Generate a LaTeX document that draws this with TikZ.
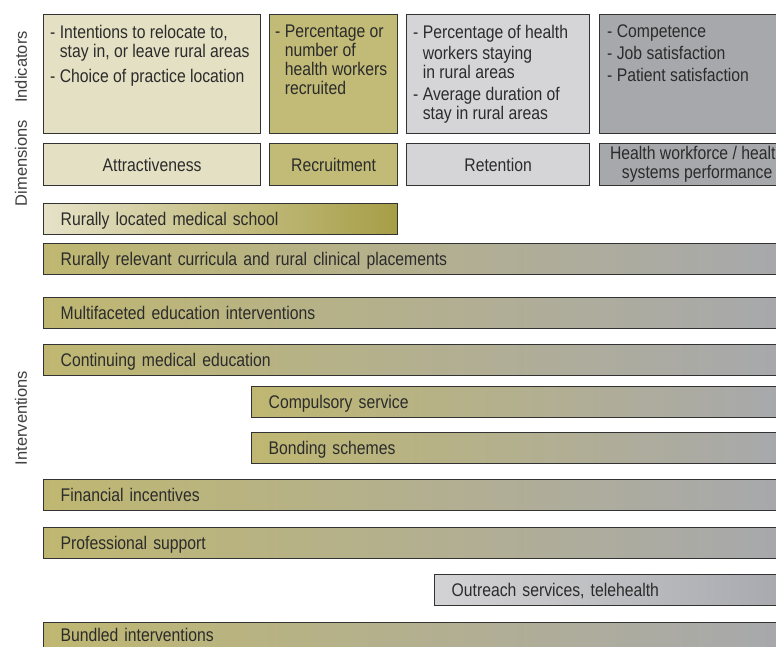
\documentclass[tikz,border=0pt]{standalone}
\usepackage{fontspec}
\setmainfont{Liberation Sans}
\newfontfamily\condfont[FakeStretch=0.86]{Liberation Sans}
\definecolor{attr}{HTML}{E4E0C3}
\definecolor{recr}{HTML}{C2BB77}
\definecolor{rete}{HTML}{D5D5D7}
\definecolor{perf}{HTML}{A7A8AC}
\definecolor{olivel}{HTML}{BFB771}
\definecolor{grayend}{HTML}{A7A8AD}
\definecolor{paleolive}{HTML}{E6E2C8}
\definecolor{darkolive}{HTML}{A69E46}
\definecolor{palegray}{HTML}{D3D3D5}
\definecolor{edge}{HTML}{333333}
\definecolor{txt}{HTML}{2B2B2B}
\begin{document}
\begin{tikzpicture}[x=1pt,y=-1pt,
  box/.style={draw=edge, line width=1.3pt, anchor=north west, inner sep=0pt},
  celltext/.style={anchor=north west, inner sep=0pt, align=left, text=txt,
    font=\condfont\fontsize{18.3}{19}\selectfont},
  dimbox/.style={box, minimum height=42pt, align=center, text=txt,
    font=\condfont\fontsize{18.3}{19}\selectfont},
  bar/.style={draw=edge, line width=1.3pt, anchor=north west, minimum height=31pt,
    inner xsep=17pt, inner ysep=0pt, align=left, text=txt,
    text height=13.2pt, text depth=0pt,
    font=\condfont\fontsize{18.3}{19}\selectfont},
  wide/.style={bar, left color=olivel, right color=grayend},
  side/.style={rotate=90, inner sep=0pt, text=txt!90, font=\fontsize{16.5}{18}\selectfont}
]
\useasboundingbox (0,0) rectangle (776,646);
\clip (0,0) rectangle (776,646);
\fill[white] (0,0) rectangle (776,646);

% side labels
\node[side] (lind) at (21,67) {Indicators};
\node[side] (ldim) at (21,163) {Dimensions};
\node[side] (lint) at (21,418) {Interventions};

% indicator boxes
\node[box, fill=attr, minimum width=217pt, minimum height=119pt] (ind1) at (43,14) {};
\node[box, fill=recr, minimum width=128pt, minimum height=119pt] (ind2) at (269,14) {};
\node[box, fill=rete, minimum width=183pt, minimum height=119pt] (ind3) at (406,14) {};
\node[box, fill=perf, minimum width=199pt, minimum height=119pt] (ind4) at (599,14) {};

\node[celltext] (t1) at (50,25) {- Intentions to relocate to,\\\phantom{- }stay in, or leave rural areas\\[6pt]- Choice of practice location};
\node[celltext] (t2) at (275,25) {- Percentage or\\\phantom{- }number of\\\phantom{- }health workers\\\phantom{- }recruited};
\node[celltext] (t3) at (413,25) {- Percentage of health\\[2.5pt]\phantom{- }workers staying\\\phantom{- }in rural areas\\[2.5pt]- Average duration of\\\phantom{- }stay in rural areas};
\node[celltext] (t4) at (607,25) {- Competence\\[3pt]- Job satisfaction\\[3pt]- Patient satisfaction};

% dimension boxes
\node[dimbox, fill=attr, minimum width=217pt] (d1) at (43,143) {Attractiveness};
\node[dimbox, fill=recr, minimum width=128pt] (d2) at (269,143) {Recruitment};
\node[dimbox, fill=rete, minimum width=183pt] (d3) at (406,143) {Retention};
\node[dimbox, fill=perf, minimum width=195pt] (d4) at (599,143) {Health workforce / health\\systems performance};

% intervention bars
\node[bar, left color=paleolive, right color=darkolive, minimum width=354pt, text width=320pt] (b1) at (43,203) {Rurally located medical school};
\node[wide, minimum width=747pt, text width=713pt] (b2) at (43,243) {Rurally relevant curricula and rural clinical placements};
\node[wide, minimum width=747pt, text width=713pt] (b3) at (43,297) {Multifaceted education interventions};
\node[wide, minimum width=747pt, text width=713pt] (b4) at (43,344) {Continuing medical education};
\node[wide, minimum width=539pt, text width=505pt] (b5) at (251,386) {Compulsory service};
\node[wide, minimum width=539pt, text width=505pt] (b6) at (251,432) {Bonding schemes};
\node[wide, minimum width=747pt, text width=713pt] (b7) at (43,479) {Financial incentives};
\node[wide, minimum width=747pt, text width=713pt] (b8) at (43,527) {Professional support};
\node[bar, left color=palegray, right color=grayend, minimum width=356pt, text width=322pt] (b9) at (434,574) {Outreach services, telehealth};
\node[wide, minimum width=747pt, text width=713pt, text depth=6pt] (b10) at (43,622) {Bundled interventions};
\end{tikzpicture}
\end{document}
